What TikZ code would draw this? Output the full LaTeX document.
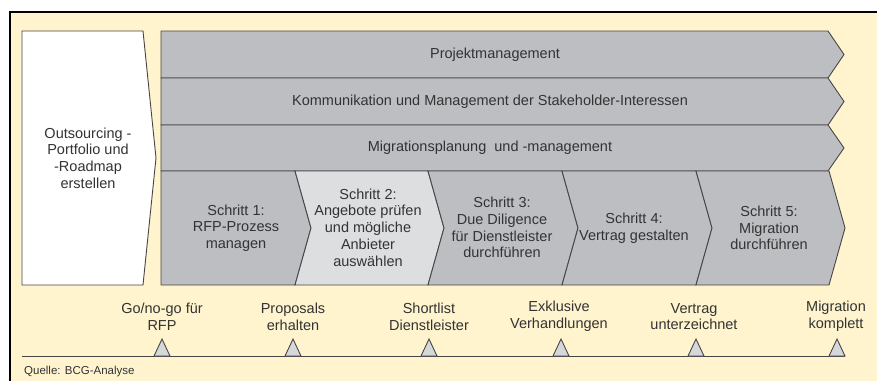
\documentclass[tikz,border=0pt]{standalone}
\usepackage{fontspec}
\setmainfont{Liberation Sans}
\definecolor{cream}{RGB}{255,244,206}
\definecolor{bandgray}{RGB}{189,190,194}
\definecolor{lightgray2}{RGB}{221,222,224}
\definecolor{trigray}{RGB}{214,215,219}
\definecolor{linec}{RGB}{70,70,70}
\definecolor{txtc}{RGB}{51,51,51}
\begin{document}
\begin{tikzpicture}[x=1pt,y=-1pt,
  lbl/.style={font=\fontsize{14.5}{16.7}\selectfont, text=txtc, align=center, inner sep=0pt},
  small/.style={font=\fontsize{11.5}{13}\selectfont, text=txtc, inner sep=0pt},
  shp/.style={draw=linec, line width=0.9pt, line join=miter},
  band/.style={shp, fill=bandgray},
  tri/.style={shp, fill=trigray},
]
\useasboundingbox (0,0) rectangle (877,380);
\begin{scope}
  \clip (0,0) rectangle (877,380);
  \fill[white] (0,0) rectangle (877,380);
  \draw[fill=cream, line width=1.4pt] (10,12) rectangle (895,400);
\end{scope}

% left box
\draw[shp, fill=white] (22,31) -- (143,31) -- (156,158) -- (143,285) -- (22,285) -- cycle;
\node[lbl] (out) at (88,158) {Outsourcing -\\Portfolio und\\-Roadmap\\erstellen};

% bands
\draw[band] (161,31) -- (828,31) -- (844,54.5) -- (828,78) -- (161,78) -- cycle;
\draw[band] (161,78) -- (828,78) -- (844,101.5) -- (828,125) -- (161,125) -- cycle;
\draw[band] (161,125) -- (828,125) -- (844,148) -- (828,171) -- (161,171) -- cycle;
\node[lbl] (b1) at (495,54.5) {Projektmanagement};
\node[lbl] (b2) at (490,101.5) {Kommunikation und Management der Stakeholder-Interessen};
\node[lbl] (b3) at (490,148) {Migrationsplanung\ \ und -management};

% steps
\draw[band] (161,171) -- (295,171) -- (311,228) -- (295,285) -- (161,285) -- cycle;
\draw[shp, fill=lightgray2] (295,171) -- (428,171) -- (444,228) -- (428,285) -- (295,285) -- (311,228) -- cycle;
\draw[band] (428,171) -- (562,171) -- (578,228) -- (562,285) -- (428,285) -- (444,228) -- cycle;
\draw[band] (562,171) -- (696,171) -- (712,228) -- (696,285) -- (562,285) -- (578,228) -- cycle;
\draw[band] (696,171) -- (829,171) -- (845,228) -- (829,285) -- (696,285) -- (712,228) -- cycle;

\node[lbl] (s1) at (236,228) {Schritt 1:\\RFP-Prozess\\managen};
\node[lbl] (s2) at (368,227.5) {Schritt 2:\\Angebote prüfen\\und mögliche\\Anbieter\\auswählen};
\node[lbl] (s3) at (502,227.5) {Schritt 3:\\Due Diligence\\für Dienstleister\\durchführen};
\node[lbl] (s4) at (634,228) {Schritt 4:\\Vertrag gestalten};
\node[lbl] (s5) at (769,228) {Schritt 5:\\Migration\\durchführen};

% timeline
\coordinate (tl0) at (22,356);
\coordinate (tl1) at (845,356);
\draw[linec, line width=0.9pt] (tl0) -- (tl1);
\foreach \x/\n in {162/t1,293/t2,429/t3,561/t4,696/t5,837/t6}{
  \draw[tri] (\x-8,356) -- (\x,339) -- (\x+8,356) -- cycle;
}
\node[lbl] (m1) at (162,316.5) {Go/no-go für\\RFP};
\node[lbl] (m2) at (293,316.5) {Proposals\\erhalten};
\node[lbl] (m3) at (429,316.5) {Shortlist\\Dienstleister};
\node[lbl] (m4) at (559,316.5) {Exklusive\\Verhandlungen};
\node[lbl] (m5) at (694,316.5) {Vertrag\\unterzeichnet};
\node[lbl] (m6) at (836,316.5) {Migration\\komplett};

\node[small, anchor=west] (src) at (24,372) {Quelle: BCG-Analyse};
\end{tikzpicture}
\end{document}
